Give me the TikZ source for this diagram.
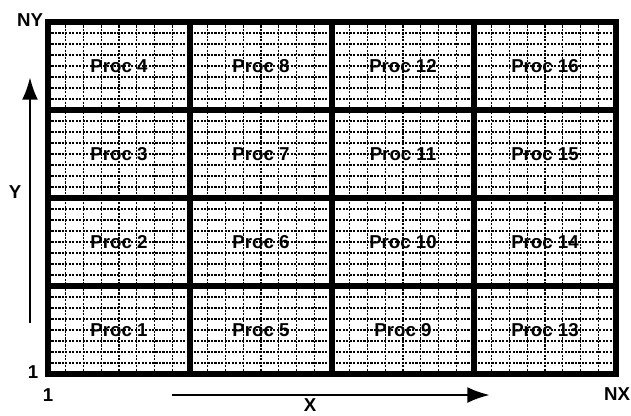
\documentclass[tikz,border=0pt]{standalone}
\usepackage{fontspec}
\setmainfont{Liberation Sans}
\usetikzlibrary{arrows.meta}

\tikzset{
  lbl/.style={font=\fontsize{14}{16}\selectfont\bfseries},
  fina/.style={line width=1pt,dash pattern=on 1.6pt off 1pt},
  gruesa/.style={line width=3.8pt},
  eje/.style={line width=2.2pt,-{Latex[length=17pt,width=12pt]}}
}

\begin{document}
\begin{tikzpicture}[x=0.75pt,y=-0.75pt]
  \useasboundingbox (0,0) rectangle (631,415);
  % malla fina 32x32
  \foreach \i in {1,...,31}{
    \draw[fina] ({48+17.75*\i},22) -- ({48+17.75*\i},374);
    \draw[fina] (48,{22+11*\i}) -- (616,{22+11*\i});
  }
  % bloques de procesadores 4x4
  \foreach \i in {1,2,3}{
    \draw[gruesa] ({48+142*\i},22) -- ({48+142*\i},374);
    \draw[gruesa] (48,{22+88*\i}) -- (616,{22+88*\i});
  }
  \draw[gruesa] (48,22) rectangle (616,374);
  % etiquetas Proc
  \foreach \c in {0,...,3}{
    \foreach \r in {0,...,3}{
      \pgfmathtruncatemacro{\k}{4*\c+\r+1}
      \node[lbl] (p\k) at ({119+142*\c},{330-88*\r}) {Proc \k};
    }
  }
  % eje Y
  \coordinate (ybot) at (30,323);
  \coordinate (ytop) at (30,77);
  \draw[eje] (ybot) -- (ytop);
  \node[lbl] (ylab) at (15,192) {Y};
  \node[lbl] (ny) at (30,20) {NY};
  \node[lbl] (uny) at (33,372) {1};
  % eje X
  \coordinate (xizq) at (172,395);
  \coordinate (xder) at (490,395);
  \draw[eje] (xizq) -- (xder);
  \node[lbl] (xlab) at (310,405) {X};
  \node[lbl] (nx) at (617,394) {NX};
  \node[lbl] (unx) at (48,395) {1};
\end{tikzpicture}
\end{document}
